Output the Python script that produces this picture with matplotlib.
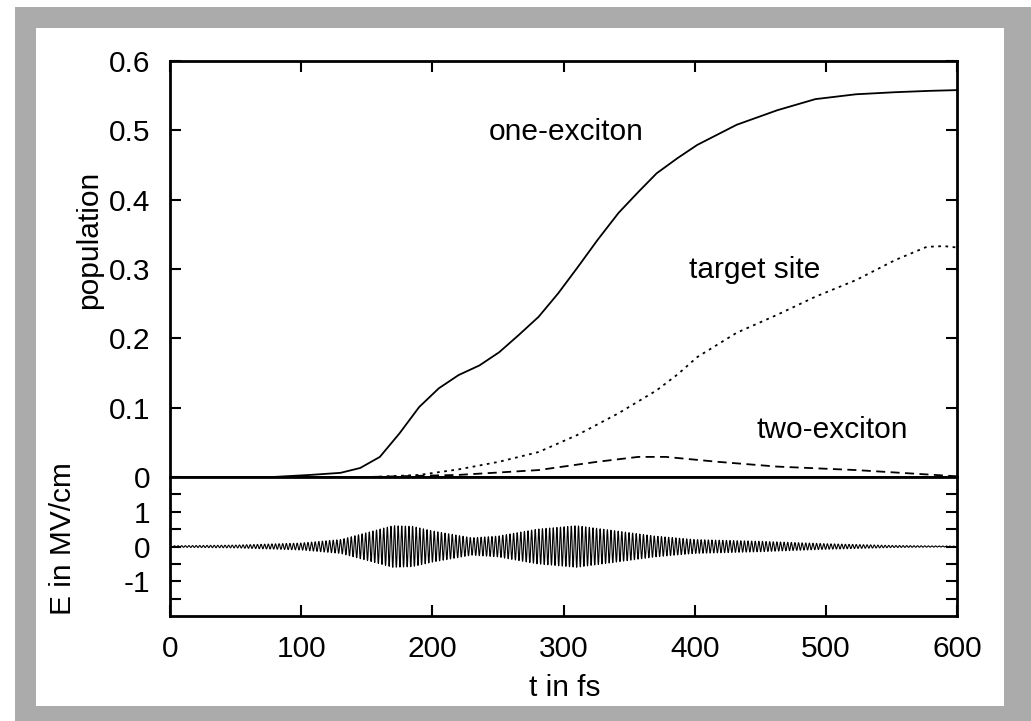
import numpy as np
import matplotlib.pyplot as plt
from matplotlib.patches import Rectangle

plt.rcParams['font.family'] = ['Liberation Sans', 'DejaVu Sans']
plt.rcParams['axes.unicode_minus'] = False

# one-exciton population
t_one = [0, 78, 107, 130, 145, 160, 175, 190, 205, 220, 236, 251, 266, 281, 296,
         311, 326, 342, 357, 371, 387, 402, 432, 463, 492, 523, 553, 580, 600]
p_one = [0, 0, 0.003, 0.006, 0.013, 0.029, 0.063, 0.101, 0.128, 0.147, 0.161, 0.18,
         0.205, 0.231, 0.265, 0.303, 0.342, 0.381, 0.411, 0.438, 0.46, 0.479, 0.508,
         0.529, 0.545, 0.552, 0.555, 0.557, 0.558]

# target site population
t_target = [0, 155, 190, 220, 251, 281, 311, 342, 371, 387, 402, 432, 463, 492,
            523, 553, 577, 590, 600]
p_target = [0, 0, 0.003, 0.011, 0.022, 0.036, 0.061, 0.092, 0.125, 0.148, 0.173,
            0.208, 0.234, 0.26, 0.284, 0.313, 0.332, 0.333, 0.331]

# two-exciton population
t_two = [0, 150, 220, 281, 326, 357, 378, 417, 463, 523, 583, 600]
p_two = [0, 0, 0.003, 0.01, 0.022, 0.029, 0.029, 0.022, 0.015, 0.01, 0.003, 0.001]

# field envelope (MV/cm)
t_env = [0, 50, 100, 130, 150, 170, 185, 200, 230, 250, 280, 310, 340, 370,
         400, 450, 500, 550, 600]
e_env = [0.02, 0.04, 0.1, 0.2, 0.4, 0.6, 0.58, 0.45, 0.25, 0.3, 0.5, 0.6, 0.45,
         0.3, 0.2, 0.15, 0.08, 0.03, 0.01]
carrier_period = 2.75  # fs

t_field = np.linspace(0, 600, 12000)
e_field = np.interp(t_field, t_env, e_env) * np.sin(2 * np.pi * t_field / carrier_period)

fig = plt.figure(figsize=(10.31, 7.21), dpi=100)
W, H = 1031, 721
fig.patches.append(Rectangle((15 / W, 0), 1 - 15 / W, 1 - 7 / H, transform=fig.transFigure,
                             facecolor='#ababab', edgecolor='none', zorder=-2))
fig.patches.append(Rectangle((36 / W, 15 / H), (1004 - 36) / W, (706 - 28) / H,
                             transform=fig.transFigure, facecolor='white',
                             edgecolor='none', zorder=-1))

left, width = 170 / W, 787 / W
ax1 = fig.add_axes([left, 1 - 477 / H, width, (477 - 61) / H])
ax2 = fig.add_axes([left, 1 - 616 / H, width, (616 - 477) / H])

fs = 21.5
lw_sp = 2.0

ax1.plot(t_one, p_one, color='black', lw=1.3)
ax1.plot(t_target, p_target, color='black', lw=1.3, linestyle=(0, (1.5, 2.5)))
ax1.plot(t_two, p_two, color='black', lw=1.3, linestyle=(0, (5, 3)))
ax1.set_xlim(0, 600)
ax1.set_ylim(0, 0.6)
ax1.set_yticks(np.arange(0, 0.61, 0.1))
ax1.set_yticklabels(['0', '0.1', '0.2', '0.3', '0.4', '0.5', '0.6'])
ax1.set_xticks(range(0, 601, 100))
ax1.tick_params(axis='x', direction='in', top=True, bottom=False, labelbottom=False,
                length=8, width=1.5)
ax1.tick_params(axis='y', direction='in', left=True, right=True, length=8, width=1.5,
                labelsize=fs, pad=14)
ax1.set_ylabel('population', fontsize=fs)
ax1.yaxis.set_label_coords(-0.085, 0.57)
ax1.text(302, 0.498, 'one-exciton', fontsize=fs, ha='center', va='center')
ax1.text(446, 0.299, 'target site', fontsize=fs, ha='center', va='center')
ax1.text(505, 0.068, 'two-exciton', fontsize=fs, ha='center', va='center')

ax2.plot(t_field, e_field, color='black', lw=0.8)
ax2.set_xlim(0, 600)
ax2.set_ylim(-2, 2)
ax2.set_yticks([-1, 0, 1])
ax2.set_yticks([-1.5, -0.5, 0.5, 1.5], minor=True)
ax2.set_xticks(range(0, 601, 100))
ax2.tick_params(axis='x', direction='in', top=False, bottom=True, length=8, width=1.5,
                labelsize=fs, pad=14)
ax2.tick_params(axis='y', which='both', direction='in', left=True, right=True,
                length=8, width=1.5, labelsize=fs, pad=14)
ax2.set_ylabel('E in MV/cm', fontsize=fs)
ax2.yaxis.set_label_coords(-0.118, 0.56)
ax2.set_xlabel('t in fs', fontsize=fs)
ax2.xaxis.set_label_coords(0.502, -0.42)

for ax in (ax1, ax2):
    for sp in ax.spines.values():
        sp.set_linewidth(lw_sp)

fig.savefig('out.png', dpi=100)
